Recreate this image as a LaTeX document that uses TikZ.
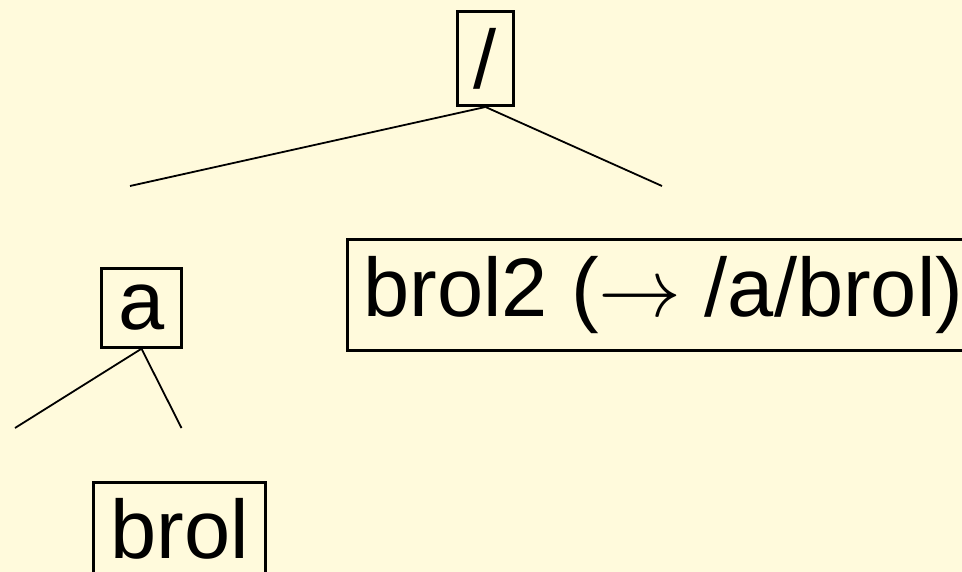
\documentclass[tikz,border=0pt]{standalone}
\usepackage{fix-cm}
\usepackage{fontspec}
\setmainfont{Liberation Sans}
\definecolor{paper}{RGB}{255,250,220}
\begin{document}
\begin{tikzpicture}[x=1pt, y=-1pt,
    box/.style={draw, line width=3pt, inner sep=16.5pt, font=\fontsize{83}{100}\selectfont},
    branch/.style={line width=1.8pt}]
    \fill[paper] (0,0) rectangle (962,572);
    \useasboundingbox (0,0) rectangle (962,572);
    \node[box] (root) at (485.5,58.5) {/};
    \node[box] (a) at (141.5,308) {a};
    \node[box, anchor=west] (brol2) at (345.5,295) {brol2 ($\rightarrow$ /a/brol)};
    \node[box, anchor=north] (brol) at (179.5,480.5) {brol};
    \coordinate (rootleft) at (130,186);
    \coordinate (rootright) at (662,186);
    \coordinate (aleft) at (15,428);
    \coordinate (aright) at (181.5,428);
    \draw[branch] (root.south) -- (rootleft);
    \draw[branch] (root.south) -- (rootright);
    \draw[branch] (a.south) -- (aleft);
    \draw[branch] (a.south) -- (aright);
\end{tikzpicture}
\end{document}
